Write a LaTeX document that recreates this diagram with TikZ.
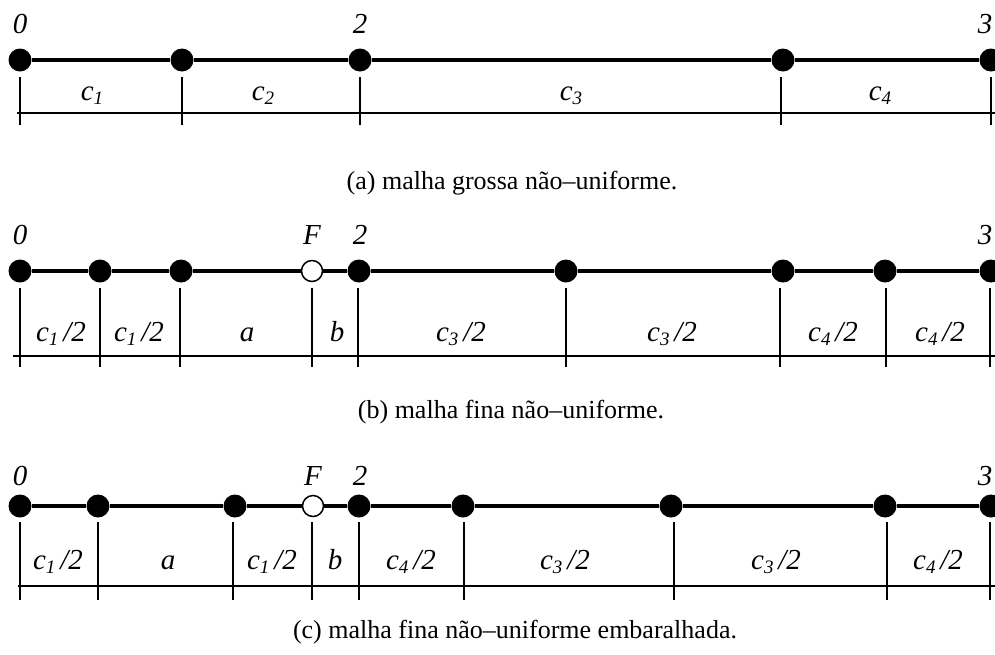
\documentclass[tikz,border=0pt]{standalone}
\usepackage{fontspec}
\setmainfont{Liberation Serif}
\usetikzlibrary{positioning}
\tikzset{
    dot/.style={circle, fill=black, inner sep=0pt, minimum size=23pt},
    odot/.style={circle, fill=white, draw=black, line width=1.5pt, inner sep=0pt, minimum size=21pt},
    axis/.style={line width=4pt},
    dim/.style={line width=1.4pt},
    lbl/.style={font=\fontsize{29}{32}\selectfont\itshape, inner sep=0pt, anchor=base},
    captxt/.style={font=\fontsize{26}{30}\selectfont, inner sep=0pt, anchor=base}
}
\newcommand{\cc}[1]{\textit{c}\raisebox{-4pt}{\fontsize{19}{21}\selectfont\textit{#1}}}
\newcommand{\chalf}[1]{\cc{#1}\,/2}

\begin{document}
\begin{tikzpicture}[x=1pt,y=-1pt]
    \useasboundingbox (0,0) rectangle (995,654);

    % (a) coarse mesh
    \node[dot] (a0) at (20,60) {};
    \node[dot] (a1) at (182,60) {};
    \node[dot] (a2) at (360,60) {};
    \node[dot] (a3) at (783,60) {};
    \node[dot] (a4) at (991,60) {};
    \draw[axis] (a0) -- (a1) -- (a2) -- (a3) -- (a4);
    \node[lbl] (na0) at (20,33) {0};
    \node[lbl] (na2) at (360,33) {2};
    \node[lbl] (na3) at (985,33) {3};
    \draw[dim] (17,113) -- (995,113);
    \foreach \x in {20,182,360,781,991}
        \draw[dim] (\x,77) -- (\x,125);
    \node[lbl] (ca1) at (92,100) {\cc{1}};
    \node[lbl] (ca2) at (263,100) {\cc{2}};
    \node[lbl] (ca3) at (571,100) {\cc{3}};
    \node[lbl] (ca4) at (880,100) {\cc{4}};
    \node[captxt] (capa) at (512,189) {(a) malha grossa não--uniforme.};

    % (b) fine mesh
    \node[dot] (b0) at (20,271) {};
    \node[dot] (b1) at (100,271) {};
    \node[dot] (b2) at (181,271) {};
    \node[odot] (bF) at (312,271) {};
    \node[dot] (b3) at (359,271) {};
    \node[dot] (b4) at (566,271) {};
    \node[dot] (b5) at (783,271) {};
    \node[dot] (b6) at (885,271) {};
    \node[dot] (b7) at (991,271) {};
    \draw[axis] (b0) -- (b1) -- (b2) -- (bF) -- (b3) -- (b4) -- (b5) -- (b6) -- (b7);
    \node[lbl] (nb0) at (20,244) {0};
    \node[lbl] (nbF) at (312,244) {F};
    \node[lbl] (nb2) at (360,244) {2};
    \node[lbl] (nb3) at (985,244) {3};
    \draw[dim] (13,356) -- (995,356);
    \foreach \x in {20,100,180,312,358,566,780,886,990}
        \draw[dim] (\x,288) -- (\x,367);
    \node[lbl] (cb1) at (61,341) {\chalf{1}};
    \node[lbl] (cb2) at (139,341) {\chalf{1}};
    \node[lbl] (cba) at (247,341) {a};
    \node[lbl] (cbb) at (337,341) {b};
    \node[lbl] (cb3) at (461,341) {\chalf{3}};
    \node[lbl] (cb4) at (672,341) {\chalf{3}};
    \node[lbl] (cb5) at (833,341) {\chalf{4}};
    \node[lbl] (cb6) at (940,341) {\chalf{4}};
    \node[captxt] (capb) at (511,418) {(b) malha fina não--uniforme.};

    % (c) shuffled fine mesh
    \node[dot] (c0) at (20,506) {};
    \node[dot] (c1) at (98,506) {};
    \node[dot] (c2) at (235,506) {};
    \node[odot] (cF) at (313,506) {};
    \node[dot] (c3) at (359,506) {};
    \node[dot] (c4) at (463,506) {};
    \node[dot] (c5) at (671,506) {};
    \node[dot] (c6) at (885,506) {};
    \node[dot] (c7) at (991,506) {};
    \draw[axis] (c0) -- (c1) -- (c2) -- (cF) -- (c3) -- (c4) -- (c5) -- (c6) -- (c7);
    \node[lbl] (nc0) at (20,485) {0};
    \node[lbl] (ncF) at (313,485) {F};
    \node[lbl] (nc2) at (360,485) {2};
    \node[lbl] (nc3) at (985,485) {3};
    \draw[dim] (18,586) -- (995,586);
    \foreach \x in {20,98,233,312,359,464,674,887,990}
        \draw[dim] (\x,522) -- (\x,600);
    \node[lbl] (cc1) at (58,569) {\chalf{1}};
    \node[lbl] (cca) at (168,569) {a};
    \node[lbl] (cc2) at (272,569) {\chalf{1}};
    \node[lbl] (ccb) at (335,569) {b};
    \node[lbl] (cc3) at (411,569) {\chalf{4}};
    \node[lbl] (cc4) at (565,569) {\chalf{3}};
    \node[lbl] (cc5) at (776,569) {\chalf{3}};
    \node[lbl] (cc6) at (938,569) {\chalf{4}};
    \node[captxt] (capc) at (515,638) {(c) malha fina não--uniforme embaralhada.};
\end{tikzpicture}
\end{document}
